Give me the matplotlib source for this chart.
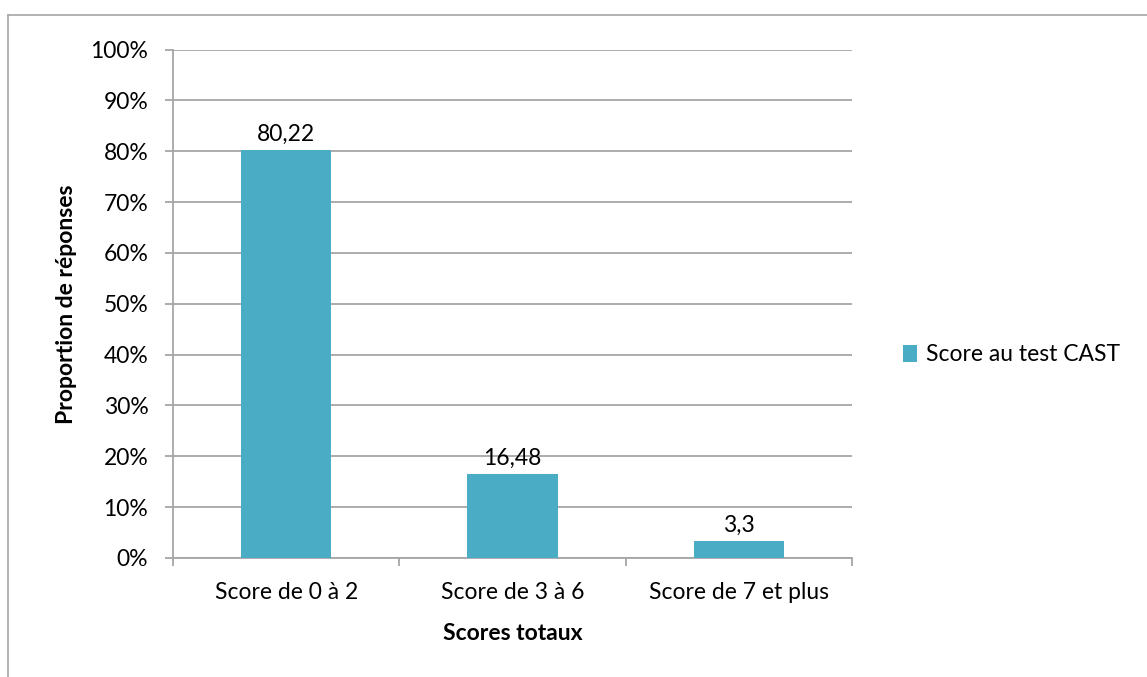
import matplotlib
matplotlib.use("Agg")
import matplotlib.pyplot as plt
from matplotlib.lines import Line2D

categories = ["Score de 0 à 2", "Score de 3 à 6", "Score de 7 et plus"]
values = [80.22, 16.48, 3.3]
value_labels = ["80,22", "16,48", "3,3"]
y_ticks = [0, 10, 20, 30, 40, 50, 60, 70, 80, 90, 100]
series_name = "Score au test CAST"

bar_color = "#4BACC6"
grid_color = "#A6A6A6"
fs = 16.5

plt.rcParams["font.family"] = ["Lato", "DejaVu Sans"]

fig = plt.figure(figsize=(11.47, 6.77), dpi=100)
ax = fig.add_axes([173 / 1147, 1 - 558 / 677, (852 - 173) / 1147, (558 - 49.5) / 677])

# outer chart border (only left and top show in the image)
fig.add_artist(Line2D([8 / 1147, 8 / 1147], [0, 1 - 15 / 677], transform=fig.transFigure,
                      color=grid_color, lw=1.2))
fig.add_artist(Line2D([8 / 1147, 1], [1 - 15 / 677, 1 - 15 / 677], transform=fig.transFigure,
                      color=grid_color, lw=1.2))

x = list(range(len(categories)))
ax.bar(x, values, width=0.4, color=bar_color, label=series_name, zorder=3)

for xi, v, lab in zip(x, values, value_labels):
    ax.text(xi, v + 1.0, lab, ha="center", va="bottom", fontsize=fs, color="black")

ax.set_xlim(-0.5, len(categories) - 0.5)
ax.set_ylim(0, 100)
ax.set_yticks(y_ticks)
ax.set_yticklabels([f"{t}%" for t in y_ticks], fontsize=fs)
ax.yaxis.grid(True, color=grid_color, lw=1.3, zorder=0)
ax.set_axisbelow(True)

# category labels sit between the boundary ticks
ax.set_xticks([-0.5, 0.5, 1.5, 2.5])
ax.set_xticklabels([])
ax.set_xticks(x, minor=True)
ax.set_xticklabels(categories, minor=True, fontsize=fs)
ax.tick_params(axis="x", which="minor", length=0, pad=17)
ax.tick_params(axis="x", which="major", length=5.8, color=grid_color, width=1.3)
ax.tick_params(axis="y", length=5.8, color=grid_color, width=1.3, pad=12)

for side in ["top", "right"]:
    ax.spines[side].set_visible(False)
for side in ["left", "bottom"]:
    ax.spines[side].set_color(grid_color)
    ax.spines[side].set_linewidth(1.3)

ax.set_xlabel("Scores totaux", fontsize=fs, fontweight="bold", labelpad=15)
ax.set_ylabel("Proportion de réponses", fontsize=fs, fontweight="bold", labelpad=10)

ax.legend(loc="center left", bbox_to_anchor=(1.045, 0.4), frameon=False, fontsize=fs,
          handlelength=0.6, handleheight=0.75, handletextpad=0.4)

fig.savefig("out.png", dpi=100)
